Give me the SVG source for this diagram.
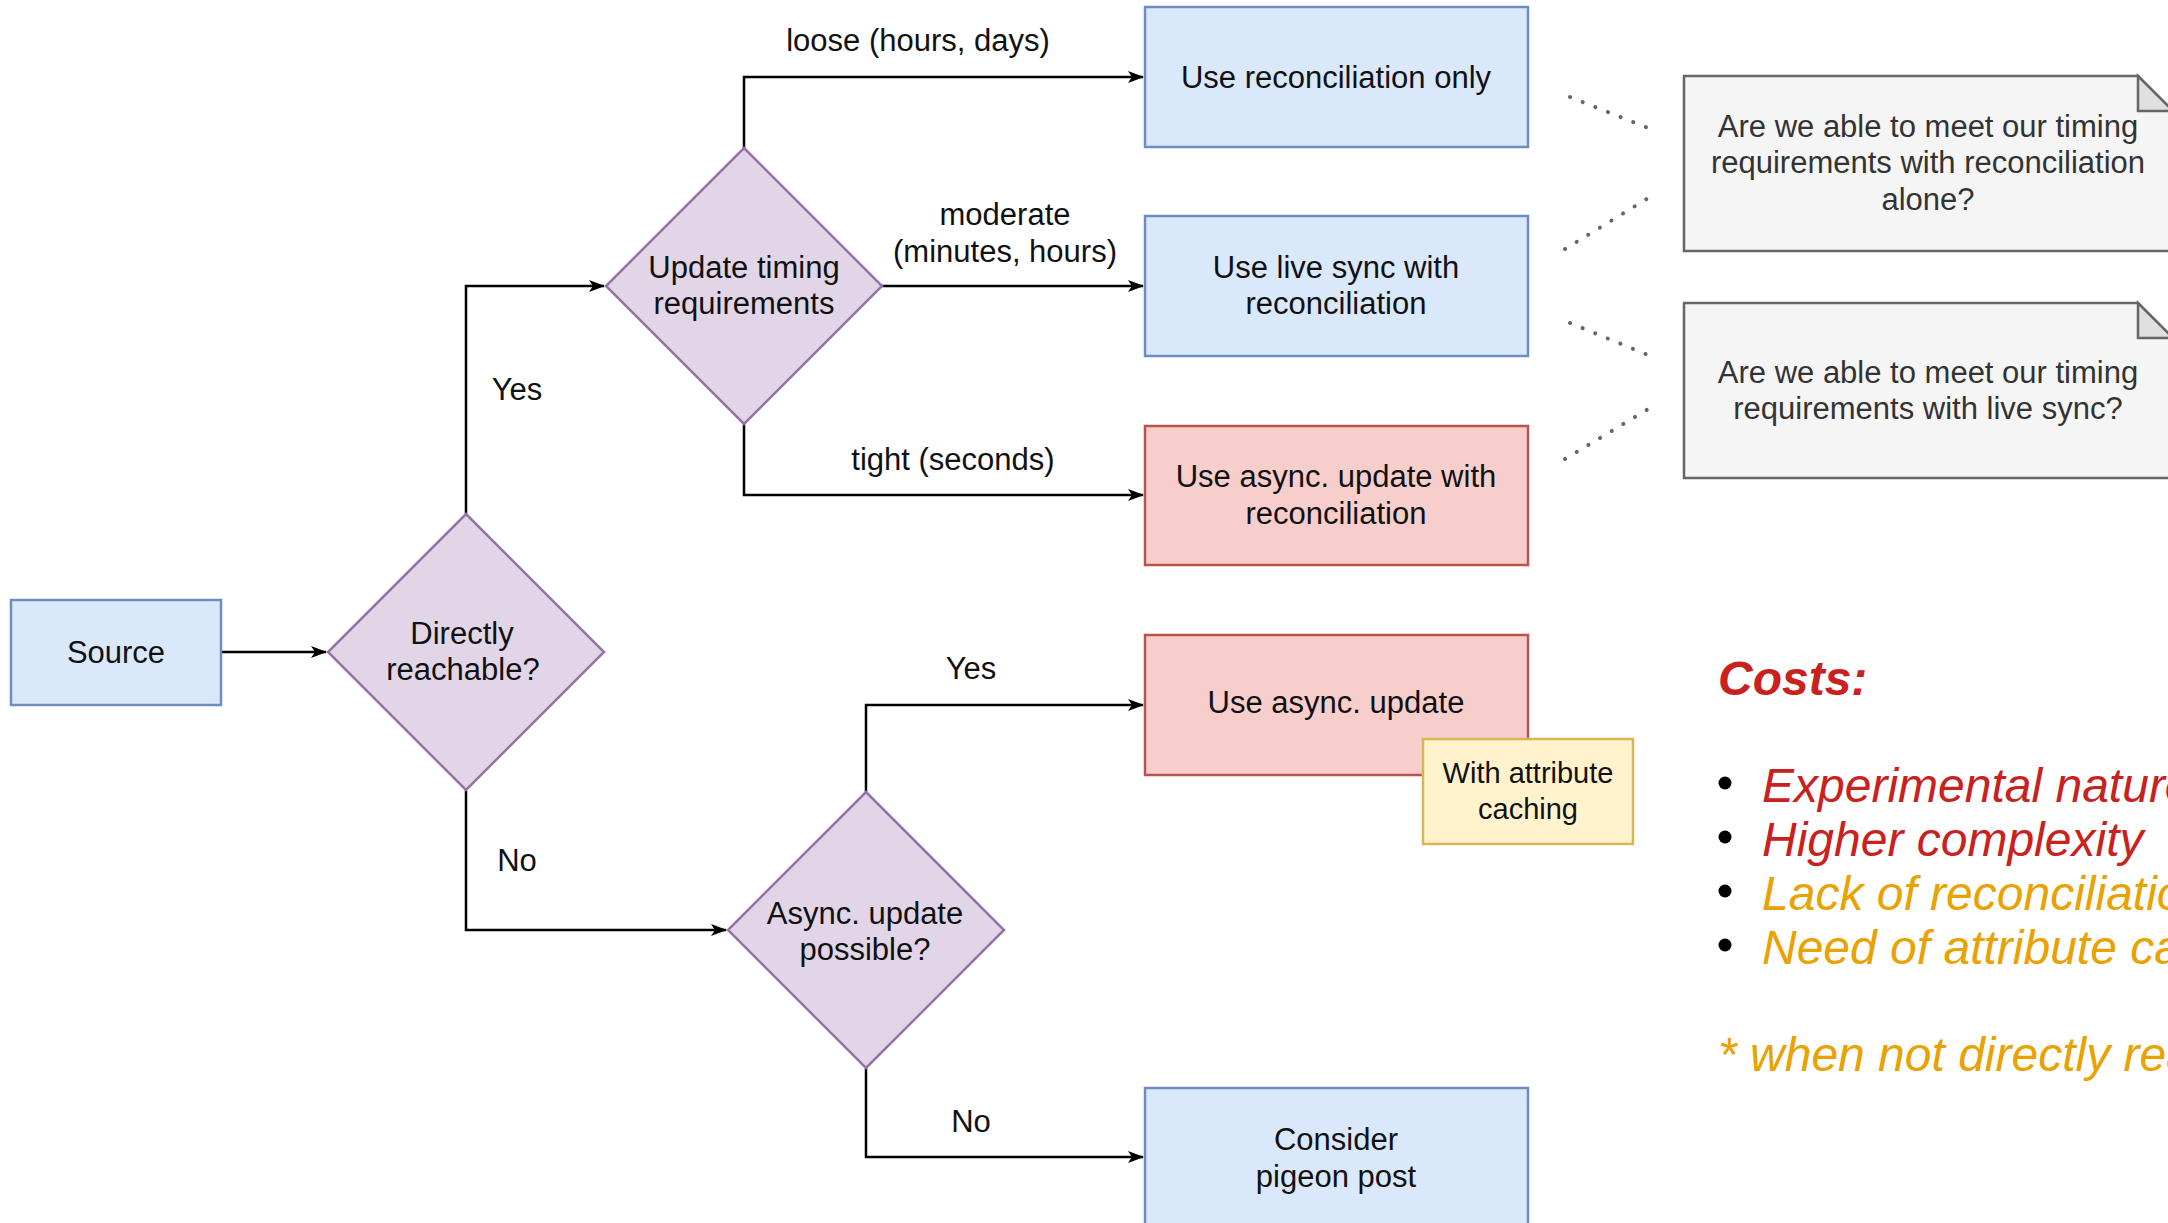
<svg xmlns="http://www.w3.org/2000/svg" width="2168" height="1223" viewBox="0 0 2168 1223">
<defs>
<style>
text{font-family:"Liberation Sans",Arial,Helvetica,sans-serif;}
.t{font-size:31px;fill:#111;text-anchor:middle;}
.s{font-size:29px;fill:#111;text-anchor:middle;}
.n{font-size:31px;fill:#333;text-anchor:middle;}
.blue{fill:#dae8fc;stroke:#6c8ebf;stroke-width:2.5;}
.red{fill:#f8cecc;stroke:#b85450;stroke-width:2.5;}
.pur{fill:#e1d5e7;stroke:#9673a6;stroke-width:2.5;}
.yel{fill:#fff2cc;stroke:#d6b656;stroke-width:2.5;}
.note{fill:#f5f5f5;stroke:#666;stroke-width:2.5;}
.fold{fill:#e0e0e0;stroke:#666;stroke-width:2.5;}
.c{fill:none;stroke:#000;stroke-width:2.5;}
.d{fill:none;stroke:#666;stroke-width:4;stroke-linecap:round;stroke-dasharray:0.1 13.5;}
.costs{font-size:48px;font-style:italic;}
.rd{fill:#c9211e;}
.or{fill:#e8a202;}
</style>
<marker id="arr" viewBox="0 0 16 12" refX="15" refY="6" markerWidth="16" markerHeight="12" markerUnits="userSpaceOnUse" orient="auto">
<path d="M0,0 L16,6 L0,12 L4,6 Z" fill="#000"/>
</marker>
</defs>
<rect width="2168" height="1223" fill="#fff"/>

<g id="connectors">
<path class="c" d="M221,652 H326" marker-end="url(#arr)"/>
<path class="c" d="M466,514 V286 H604" marker-end="url(#arr)"/>
<path class="c" d="M466,790 V930 H726" marker-end="url(#arr)"/>
<path class="c" d="M744,148 V77 H1143" marker-end="url(#arr)"/>
<path class="c" d="M882,286 H1143" marker-end="url(#arr)"/>
<path class="c" d="M744,424 V495 H1143" marker-end="url(#arr)"/>
<path class="c" d="M866,792 V705 H1143" marker-end="url(#arr)"/>
<path class="c" d="M866,1068 V1157 H1143" marker-end="url(#arr)"/>
<text class="t" x="918" y="51">loose (hours, days)</text>
<text class="t" x="1005" y="225">moderate</text>
<text class="t" x="1005" y="262">(minutes, hours)</text>
<text class="t" x="953" y="470">tight (seconds)</text>
<text class="t" x="517" y="400">Yes</text>
<text class="t" x="517" y="871">No</text>
<text class="t" x="971" y="679">Yes</text>
<text class="t" x="971" y="1132">No</text>
<path class="d" d="M1570,97 L1648,128"/>
<path class="d" d="M1565,249 L1650,197"/>
<path class="d" d="M1570,323 L1648,355"/>
<path class="d" d="M1565,459 L1650,408"/>
</g>

<g id="source">
<rect class="blue" x="11" y="600" width="210" height="105"/>
<text class="t" x="116" y="663">Source</text>
</g>

<g id="directly-reachable">
<path class="pur" d="M466,514 L604,652 L466,790 L328,652 Z"/>
<text class="t" x="462" y="644">Directly</text>
<text class="t" x="463" y="680">reachable?</text>
</g>

<g id="update-timing">
<path class="pur" d="M744,148 L882,286 L744,424 L606,286 Z"/>
<text class="t" x="744" y="278">Update timing</text>
<text class="t" x="744" y="314">requirements</text>
</g>

<g id="async-possible">
<path class="pur" d="M866,792 L1004,930 L866,1068 L728,930 Z"/>
<text class="t" x="865" y="924">Async. update</text>
<text class="t" x="865" y="960">possible?</text>
</g>

<g id="reconciliation-only">
<rect class="blue" x="1145" y="7" width="383" height="140"/>
<text class="t" x="1336" y="88">Use reconciliation only</text>
</g>

<g id="live-sync">
<rect class="blue" x="1145" y="216" width="383" height="140"/>
<text class="t" x="1336" y="278">Use live sync with</text>
<text class="t" x="1336" y="314">reconciliation</text>
</g>

<g id="async-update-reconciliation">
<rect class="red" x="1145" y="426" width="383" height="139"/>
<text class="t" x="1336" y="487">Use async. update with</text>
<text class="t" x="1336" y="524">reconciliation</text>
</g>

<g id="async-update">
<rect class="red" x="1145" y="635" width="383" height="140"/>
<text class="t" x="1336" y="713">Use async. update</text>
</g>

<g id="attribute-caching">
<rect class="yel" x="1423" y="739" width="210" height="105"/>
<text class="s" x="1528" y="783">With attribute</text>
<text class="s" x="1528" y="819">caching</text>
</g>

<g id="pigeon-post">
<rect class="blue" x="1145" y="1088" width="383" height="140"/>
<text class="t" x="1336" y="1150">Consider</text>
<text class="t" x="1336" y="1187">pigeon post</text>
</g>

<g id="note-reconciliation">
<path class="note" d="M1684,76 H2138 L2173,111 V251 H1684 Z"/>
<path class="fold" d="M2138,76 V111 H2173 Z"/>
<text class="n" x="1928" y="137">Are we able to meet our timing</text>
<text class="n" x="1928" y="173">requirements with reconciliation</text>
<text class="n" x="1928" y="210">alone?</text>
</g>

<g id="note-live-sync">
<path class="note" d="M1684,303 H2138 L2173,338 V478 H1684 Z"/>
<path class="fold" d="M2138,303 V338 H2173 Z"/>
<text class="n" x="1928" y="383">Are we able to meet our timing</text>
<text class="n" x="1928" y="419">requirements with live sync?</text>
</g>

<g id="costs">
<text class="rd" x="1718" y="695" style="font-size:48px;font-weight:bold;font-style:italic;">Costs:</text>
<circle cx="1725" cy="783" r="6.5" fill="#000"/>
<circle cx="1725" cy="837" r="6.5" fill="#000"/>
<circle cx="1725" cy="891" r="6.5" fill="#000"/>
<circle cx="1725" cy="945" r="6.5" fill="#000"/>
<text class="costs rd" x="1762" y="802">Experimental nature</text>
<text class="costs rd" x="1762" y="856">Higher complexity</text>
<text class="costs or" x="1762" y="910">Lack of reconciliation</text>
<text class="costs or" x="1762" y="964">Need of attribute caching</text>
<text class="costs or" x="1718" y="1071">* when not directly reachable</text>
</g>
</svg>
